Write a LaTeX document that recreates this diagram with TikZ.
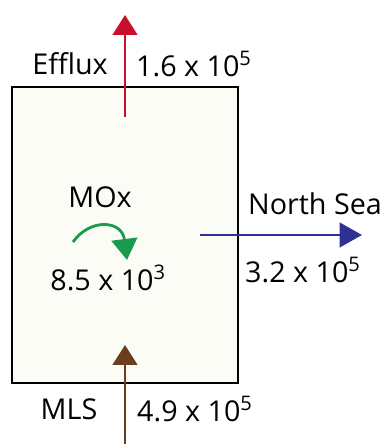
\documentclass[tikz,border=0pt]{standalone}
\usepackage{fontspec}
\setmainfont{Open Sans}
\usetikzlibrary{arrows.meta}

\definecolor{efred}{HTML}{C8102E}
\definecolor{moxgreen}{HTML}{1A9A4E}
\definecolor{seablue}{HTML}{2E3192}
\definecolor{mlsbrown}{HTML}{6B3F1D}
\definecolor{boxcream}{HTML}{FCFCF6}

\tikzset{
  lbl/.style={font=\fontsize{24.5}{29}\selectfont, inner sep=0pt},
  flux/.style={line width=2.2pt, -{Triangle[width=21pt,length=17pt]}},
}

\begin{document}
\begin{tikzpicture}[x=0.03cm, y=-0.03cm]

\useasboundingbox (0,0) rectangle (390,444);

% Box
\draw[line width=1.7pt, fill=boxcream] (12,87) rectangle (238,383);

% Efflux
\coordinate (effin) at (125,117);
\coordinate (effout) at (125,15);
\draw[flux, efred] (effin) -- (effout);
\node[lbl] (efflux) at (70,64) {Efflux};
\node[lbl, anchor=west] (effval) at (136,64) {1.6 x 10\textsuperscript{5}};

% MOx
\node[lbl] (mox) at (100,197) {MOx};
\coordinate (moxa) at (73,242);
\coordinate (moxb) at (127,260);
\draw[line width=2.4pt, moxgreen, -{Triangle[width=22pt,length=18pt]}]
  (moxa) .. controls (90,218) and (122,220) .. (moxb);
\node[lbl] (moxval) at (108,278) {8.5 x 10\textsuperscript{3}};

% North Sea
\coordinate (seain) at (200,235);
\coordinate (seaout) at (362,235);
\draw[line width=1.8pt, seablue, -{Triangle[width=21pt,length=19pt]}] (seain) -- (seaout);
\node[lbl] (sea) at (315,204) {North Sea};
\node[lbl, anchor=west] (seaval) at (245,270) {3.2 x 10\textsuperscript{5}};

% MLS
\coordinate (mlsin) at (125,444);
\coordinate (mlsout) at (125,345);
\draw[flux, mlsbrown] (mlsin) -- (mlsout);
\node[lbl] (mls) at (69,409) {MLS};
\node[lbl, anchor=west] (mlsval) at (137,409) {4.9 x 10\textsuperscript{5}};

\end{tikzpicture}
\end{document}
